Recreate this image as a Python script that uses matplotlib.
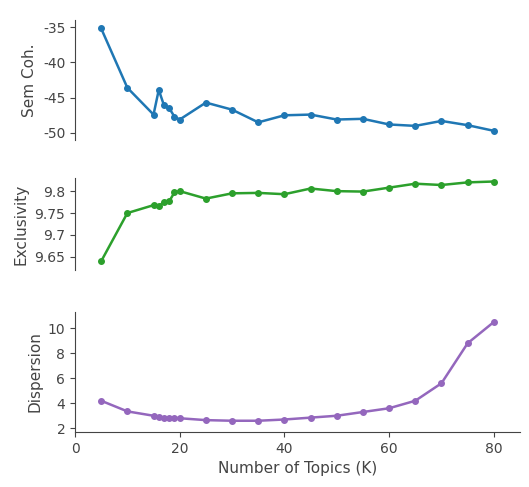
import matplotlib.pyplot as plt
from matplotlib.ticker import FormatStrFormatter

topics = [5, 10, 15, 16, 17, 18, 19, 20, 25, 30, 35, 40, 45, 50, 55, 60, 65, 70, 75, 80]
sem_coh = [-35.2, -43.6, -47.4, -43.9, -46.1, -46.5, -47.7, -48.1, -45.7, -46.7,
           -48.5, -47.5, -47.4, -48.1, -48.0, -48.8, -49.0, -48.3, -48.9, -49.7]
exclusivity = [9.64, 9.75, 9.768, 9.765, 9.776, 9.777, 9.797, 9.800, 9.783, 9.795,
               9.796, 9.793, 9.806, 9.800, 9.799, 9.808, 9.817, 9.814, 9.820, 9.822]
dispersion = [4.2, 3.35, 3.0, 2.9, 2.85, 2.85, 2.85, 2.8, 2.65, 2.6,
              2.6, 2.7, 2.85, 3.0, 3.3, 3.6, 4.2, 5.6, 8.8, 10.5]

fig = plt.figure(figsize=(5.29, 4.87), dpi=100)
W, H = 529, 487
panels = [
    (sem_coh, "Sem Coh.", "#1f77b4", (20, 140), (-51, -34), [-35, -40, -45, -50]),
    (exclusivity, "Exclusivity", "#2ca02c", (178, 270), (9.62, 9.83), [9.65, 9.7, 9.75, 9.8]),
    (dispersion, "Dispersion", "#9467bd", (312, 432), (1.7, 11.3), [2, 4, 6, 8, 10]),
]
for i, (vals, label, color, (top, bot), ylim, yt) in enumerate(panels):
    ax = fig.add_axes([75 / W, 1 - bot / H, 445 / W, (bot - top) / H])
    ax.plot(topics, vals, color=color, marker="o", markersize=4, linewidth=1.8)
    ax.set_xlim(0, 85)
    ax.set_ylim(*ylim)
    ax.set_yticks(yt)
    ax.yaxis.set_major_formatter(FormatStrFormatter("%g"))
    ax.set_ylabel(label, fontsize=11, color="#444")
    for s in ["top", "right"]:
        ax.spines[s].set_visible(False)
    ax.spines["left"].set_color("#444")
    ax.tick_params(colors="#444", labelsize=10)
    if i < 2:
        ax.spines["bottom"].set_visible(False)
        ax.set_xticks([])
    else:
        ax.spines["bottom"].set_color("#444")
        ax.set_xticks([0, 20, 40, 60, 80])
        ax.set_xlabel("Number of Topics (K)", fontsize=11, color="#444")

fig.savefig("out.png", dpi=100)
